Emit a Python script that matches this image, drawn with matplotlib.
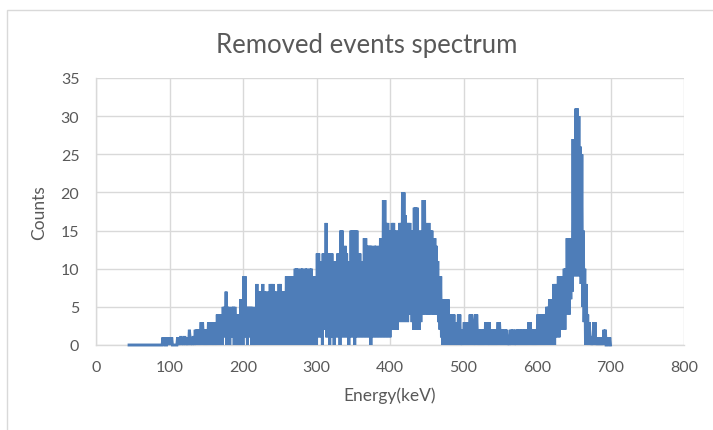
import numpy as np
import matplotlib
matplotlib.use("Agg")
import matplotlib.pyplot as plt
from matplotlib.patches import Rectangle

# Spectrum of removed events: counts per 1 keV bin, first bin at 45 keV
energy_start = 45
energy_step = 1
counts = [
    # 45-64
    0, 0, 0, 0, 0, 0, 0, 0, 0, 0, 0, 0, 0, 0, 0, 0, 0, 0, 0, 0,
    # 65-84
    0, 0, 0, 0, 0, 0, 0, 0, 0, 0, 0, 0, 0, 0, 0, 0, 0, 0, 0, 0,
    # 85-104
    0, 0, 0, 0, 0, 0, 1, 0, 1, 0, 0, 0, 1, 0, 1, 0, 1, 0, 1, 0,
    # 105-124
    0, 0, 0, 0, 0, 0, 1, 0, 1, 0, 1, 1, 0, 1, 0, 1, 1, 0, 1, 0,
    # 125-144
    1, 0, 2, 1, 0, 1, 0, 1, 1, 0, 2, 0, 2, 1, 2, 0, 2, 1, 3, 0,
    # 145-164
    3, 1, 2, 0, 2, 1, 2, 0, 3, 1, 3, 0, 3, 1, 2, 0, 3, 1, 2, 0,
    # 165-184
    4, 1, 4, 0, 4, 2, 4, 0, 5, 1, 5, 2, 7, 0, 5, 1, 5, 0, 4, 2,
    # 185-204
    5, 1, 5, 0, 5, 2, 4, 0, 4, 1, 3, 0, 6, 1, 5, 0, 9, 2, 9, 1,
    # 205-224
    5, 0, 5, 2, 5, 1, 5, 0, 5, 1, 4, 0, 5, 2, 8, 0, 7, 1, 7, 0,
    # 225-244
    7, 2, 8, 0, 7, 1, 7, 0, 6, 2, 7, 0, 8, 1, 8, 0, 8, 2, 7, 0,
    # 245-264
    7, 1, 6, 0, 8, 1, 8, 0, 7, 2, 7, 0, 7, 1, 9, 0, 9, 1, 9, 0,
    # 265-284
    9, 2, 9, 0, 7, 1, 10, 0, 10, 1, 10, 0, 9, 2, 10, 0, 10, 1, 9, 0,
    # 285-304
    10, 1, 10, 0, 9, 2, 10, 0, 10, 1, 9, 0, 9, 1, 9, 0, 12, 1, 12, 2,
    # 305-324
    9, 1, 11, 0, 12, 2, 9, 3, 16, 1, 12, 2, 12, 0, 12, 1, 12, 2, 11, 0,
    # 325-344
    10, 1, 11, 2, 12, 1, 12, 0, 15, 1, 15, 2, 12, 1, 13, 2, 12, 1, 11, 0,
    # 345-364
    11, 2, 15, 1, 15, 2, 15, 0, 15, 1, 15, 2, 11, 1, 12, 2, 11, 1, 11, 2,
    # 365-384
    14, 1, 14, 2, 13, 1, 13, 2, 13, 0, 13, 1, 12, 2, 13, 1, 13, 2, 12, 1,
    # 385-404
    13, 2, 14, 1, 14, 2, 19, 1, 19, 2, 16, 1, 16, 2, 14, 1, 15, 3, 16, 2,
    # 405-424
    16, 2, 15, 3, 14, 2, 15, 3, 16, 4, 16, 3, 20, 4, 20, 3, 17, 4, 16, 3,
    # 425-444
    16, 5, 16, 4, 15, 3, 15, 2, 18, 3, 18, 2, 18, 3, 15, 2, 14, 3, 15, 4,
    # 445-464
    19, 4, 19, 5, 16, 4, 15, 4, 16, 4, 15, 5, 15, 4, 14, 4, 14, 4, 13, 4,
    # 465-484
    11, 3, 9, 2, 9, 1, 6, 0, 6, 1, 5, 0, 6, 1, 6, 0, 4, 1, 4, 0,
    # 485-504
    4, 1, 4, 0, 3, 1, 3, 0, 4, 1, 4, 0, 2, 0, 2, 1, 3, 0, 3, 1,
    # 505-524
    3, 0, 3, 1, 4, 0, 4, 1, 3, 0, 3, 4, 0, 4, 1, 2, 0, 2, 1, 2,
    # 525-544
    0, 2, 1, 2, 0, 3, 1, 3, 0, 2, 3, 0, 2, 1, 2, 0, 2, 1, 2, 0,
    # 545-564
    2, 1, 3, 0, 3, 1, 2, 0, 2, 1, 2, 0, 2, 1, 2, 0, 1, 0, 1, 2,
    # 565-584
    0, 2, 1, 2, 0, 1, 2, 0, 2, 1, 2, 0, 2, 1, 2, 0, 2, 1, 2, 0,
    # 585-604
    2, 1, 2, 0, 3, 1, 3, 0, 2, 1, 2, 0, 2, 1, 2, 0, 4, 1, 4, 0,
    # 605-624
    4, 1, 4, 0, 4, 2, 4, 0, 5, 1, 5, 0, 6, 1, 6, 0, 6, 2, 8, 0,
    # 625-644
    8, 1, 8, 2, 9, 1, 9, 3, 7, 2, 9, 3, 10, 2, 10, 4, 14, 5, 14, 4,
    # 645-664
    14, 6, 14, 7, 27, 9, 27, 10, 31, 9, 31, 11, 30, 9, 26, 8, 25, 5, 15, 3,
    # 665-684
    10, 0, 8, 1, 4, 0, 3, 1, 1, 0, 1, 0, 3, 0, 3, 0, 1, 0, 1, 0,
    # 685-700
    1, 0, 1, 0, 1, 0, 2, 0, 2, 0, 0, 0, 1, 0, 1, 0,
]
energy = energy_start + energy_step * np.arange(len(counts))

x_ticks = [0, 100, 200, 300, 400, 500, 600, 700, 800]
y_ticks = [0, 5, 10, 15, 20, 25, 30, 35]

title_text = "Removed events spectrum"
x_label = "Energy(keV)"
y_label = "Counts"

plt.rcParams["font.family"] = ["Lato", "DejaVu Sans"]
text_color = "#595959"
grid_color = "#D9D9D9"
line_color = "#4E7DB8"

W, H = 713, 431
fig = plt.figure(figsize=(W / 100, H / 100), dpi=100)
ax = fig.add_axes([96 / W, (H - 346) / H, (684 - 96) / W, (346 - 79) / H])

ax.plot(energy, counts, color=line_color, lw=2.1, solid_joinstyle="miter",
        clip_on=False, zorder=3)

ax.set_xlim(0, 800)
ax.set_ylim(0, 35)
ax.set_xticks(x_ticks)
ax.set_yticks(y_ticks)
ax.set_axisbelow(True)
ax.grid(True, color=grid_color, lw=1.0)
for side in ("top", "right"):
    ax.spines[side].set_visible(False)
for side in ("left", "bottom"):
    ax.spines[side].set_color(grid_color)
    ax.spines[side].set_linewidth(1.0)
ax.tick_params(length=0, labelsize=11.5, labelcolor=text_color)
ax.tick_params(axis="x", pad=11)
ax.tick_params(axis="y", pad=12)

ax.set_xlabel(x_label, fontsize=12.5, color=text_color, labelpad=9)
ax.set_ylabel(y_label, fontsize=12.5, color=text_color, labelpad=10)

fig.text(367 / W, 1 - 45 / H, title_text, ha="center", va="center",
         fontsize=18.5, color=text_color)

# chart area border
fig.patches.append(Rectangle((7 / W, -0.1), 1.2, 1 - 11 / H + 0.1,
                             transform=fig.transFigure, fill=False,
                             edgecolor=grid_color, lw=1.0))

fig.savefig("out.png", dpi=100)
